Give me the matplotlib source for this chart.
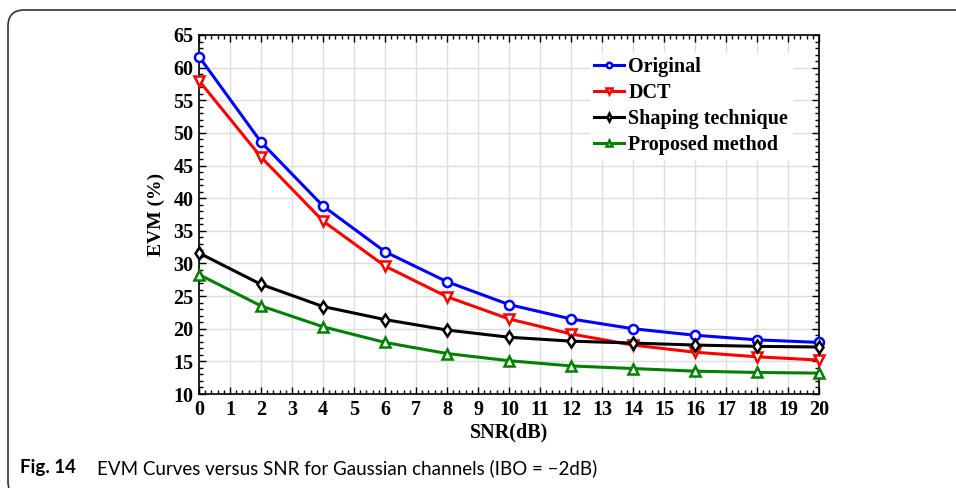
import numpy as np
import matplotlib.pyplot as plt
from matplotlib.patches import FancyBboxPatch
from matplotlib.ticker import MultipleLocator

snr = [0, 2, 4, 6, 8, 10, 12, 14, 16, 18, 20]
evm_original = [61.7, 48.6, 38.8, 31.8, 27.2, 23.7, 21.5, 20.0, 19.0, 18.3, 17.9]
evm_dct = [58.0, 46.3, 36.5, 29.6, 24.9, 21.5, 19.2, 17.5, 16.4, 15.7, 15.2]
evm_shaping = [31.6, 26.8, 23.4, 21.4, 19.8, 18.7, 18.1, 17.8, 17.5, 17.3, 17.2]
evm_proposed = [28.3, 23.5, 20.3, 17.9, 16.2, 15.1, 14.3, 13.9, 13.5, 13.3, 13.2]

serif = 'Liberation Serif'

fig = plt.figure(figsize=(9.56, 4.88), dpi=100)
ax = fig.add_axes([199 / 956, 1 - 394 / 488, 620 / 956, 359 / 488])

series = [
    (evm_original, 'blue', 'o', 'Original'),
    (evm_dct, 'red', 'v', 'DCT'),
    (evm_shaping, 'black', 'd', 'Shaping technique'),
    (evm_proposed, 'green', '^', 'Proposed method'),
]
for vals, col, mk, lab in series:
    ax.plot(snr, vals, color=col, lw=2.2, marker=mk, ms=6.5, mfc='white',
            mec=col, mew=1.8, label=lab, clip_on=False, zorder=3)

ax.set_xlim(0, 20)
ax.set_ylim(10, 65)
ax.xaxis.set_major_locator(MultipleLocator(1))
ax.xaxis.set_minor_locator(MultipleLocator(0.2))
ax.yaxis.set_major_locator(MultipleLocator(5))
ax.yaxis.set_minor_locator(MultipleLocator(1))
ax.tick_params(which='both', direction='in', top=True, right=True, width=1)
ax.tick_params(which='major', length=5, pad=4)
ax.tick_params(which='minor', length=3)
ax.grid(True, which='major', color='#dcdcdc', lw=1)
for lbl in ax.get_xticklabels() + ax.get_yticklabels():
    lbl.set_fontfamily(serif)
    lbl.set_fontweight('bold')
    lbl.set_fontsize(14.5)
for sp in ax.spines.values():
    sp.set_linewidth(1.2)

ax.set_xlabel('SNR(dB)', family=serif, weight='bold', fontsize=14.5, labelpad=2)
ax.set_ylabel('EVM (%)', family=serif, weight='bold', fontsize=14, labelpad=6)

leg = ax.legend(loc='upper left', bbox_to_anchor=(590 / 956, 1 - 53 / 488),
                bbox_transform=fig.transFigure, frameon=True,
                framealpha=1, edgecolor='white', fancybox=False,
                prop={'family': serif, 'weight': 'bold', 'size': 14.5},
                handlelength=1.5, handletextpad=0.2, labelspacing=0.3,
                borderpad=0.2, borderaxespad=0, markerscale=0.6)

# outer frame with rounded corners
frame = FancyBboxPatch((8 / 956, -0.02), 1.2, 1 - 10 / 488 + 0.02,
                       boxstyle='round,pad=0,rounding_size=0.017',
                       transform=fig.transFigure, fill=False,
                       edgecolor='#333333', lw=1.2, mutation_aspect=956 / 488)
fig.patches.append(frame)

fig.text(20 / 956, 1 - 468 / 488, 'Fig. 14', family='Lato', weight='bold',
         fontsize=13.5, va='center')
fig.text(97 / 956, 1 - 468 / 488,
         'EVM Curves versus SNR for Gaussian channels (IBO = \u22122dB)',
         family='Lato', fontsize=13.5, va='center')

fig.savefig('out.png', dpi=100)
